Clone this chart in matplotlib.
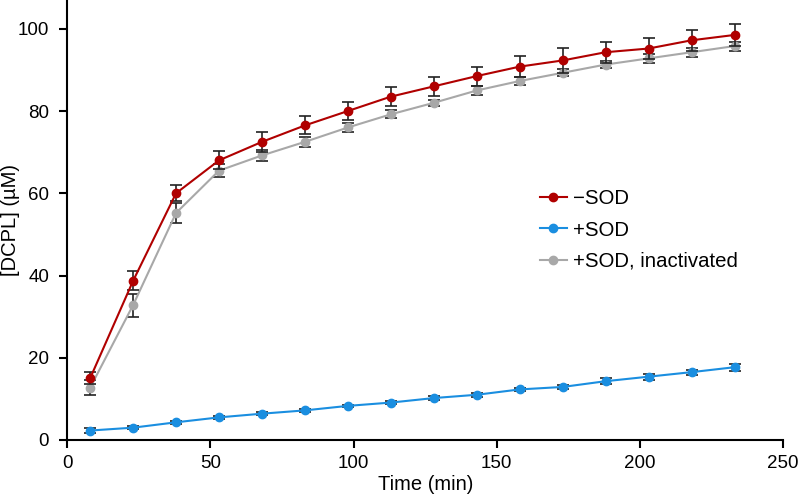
import matplotlib
matplotlib.use("Agg")
import matplotlib.pyplot as plt

plt.rcParams['font.family'] = ['Liberation Sans', 'DejaVu Sans']

time = [8, 23, 38, 53, 68, 83, 98, 113, 128, 143, 158, 173, 188, 203, 218, 233]
minus_sod = [15.0, 38.7, 60.0, 68.0, 72.5, 76.5, 80.0, 83.5, 86.0, 88.5, 90.8, 92.3, 94.3, 95.2, 97.2, 98.5]
minus_sod_err = [1.5, 2.3, 2.0, 2.2, 2.5, 2.2, 2.2, 2.3, 2.3, 2.3, 2.5, 3.0, 2.5, 2.5, 2.5, 2.7]
plus_sod = [2.3, 3.0, 4.3, 5.5, 6.4, 7.2, 8.3, 9.1, 10.2, 11.0, 12.3, 12.9, 14.3, 15.4, 16.5, 17.7]
plus_sod_err = [0.5, 0.3, 0.4, 0.4, 0.4, 0.4, 0.3, 0.4, 0.4, 0.5, 0.4, 0.4, 0.7, 0.7, 0.6, 0.9]
inact = [12.7, 32.8, 55.2, 65.5, 69.2, 72.5, 76.0, 79.2, 82.0, 85.0, 87.3, 89.3, 91.3, 92.8, 94.3, 95.8]
inact_err = [1.8, 2.8, 2.5, 1.5, 1.3, 1.3, 1.2, 1.0, 0.8, 1.2, 1.0, 0.9, 0.8, 1.0, 1.1, 1.1]

fig = plt.figure(figsize=(8, 5), dpi=100)
ax = fig.add_axes([0.084, 0.12, 0.895, 0.88])

red = '#b00000'
blue = '#1a8ee0'
gray = '#a8a8a8'

ax.errorbar(time, inact, yerr=inact_err, fmt='none', ecolor='#222222', elinewidth=1.2, capsize=4, capthick=1.2, zorder=2)
ax.plot(time, inact, '-o', color=gray, ms=6, lw=1.5, label='+SOD, inactivated', zorder=3)
ax.errorbar(time, minus_sod, yerr=minus_sod_err, fmt='none', ecolor='#222222', elinewidth=1.2, capsize=4, capthick=1.2, zorder=4)
ax.plot(time, minus_sod, '-o', color=red, ms=6, lw=1.5, label='\u2212SOD', zorder=5)
ax.errorbar(time, plus_sod, yerr=plus_sod_err, fmt='none', ecolor='#222222', elinewidth=1.2, capsize=4, capthick=1.2, zorder=4)
ax.plot(time, plus_sod, '-o', color=blue, ms=6, lw=1.5, label='+SOD', zorder=5)

ax.set_xlim(0, 250)
ax.set_ylim(0, 107)
ax.set_xticks([0, 50, 100, 150, 200, 250])
ax.set_yticks([0, 20, 40, 60, 80, 100])
ax.spines['top'].set_visible(False)
ax.spines['right'].set_visible(False)
for s in ['left', 'bottom']:
    ax.spines[s].set_linewidth(1.5)
ax.tick_params(direction='out', width=1.5, length=6, labelsize=13.5)
ax.tick_params(axis='y', pad=7)
ax.tick_params(axis='x', pad=5)
ax.set_xlabel('Time (min)', fontsize=14.5, labelpad=2)
ax.set_ylabel('[DCPL] (\u00b5M)', fontsize=14.5)
ax.yaxis.set_label_coords(-0.066, 0.5)

handles, labels = ax.get_legend_handles_labels()
order = [labels.index('\u2212SOD'), labels.index('+SOD'), labels.index('+SOD, inactivated')]
fig.legend([handles[i] for i in order], [labels[i] for i in order], frameon=False,
           fontsize=14.7, loc='center left', bbox_to_anchor=(0.675, 0.54),
           bbox_transform=fig.transFigure, borderpad=0, borderaxespad=0,
           handlelength=1.3, handletextpad=0.3, labelspacing=0.6)

fig.savefig('out.png', dpi=100)
